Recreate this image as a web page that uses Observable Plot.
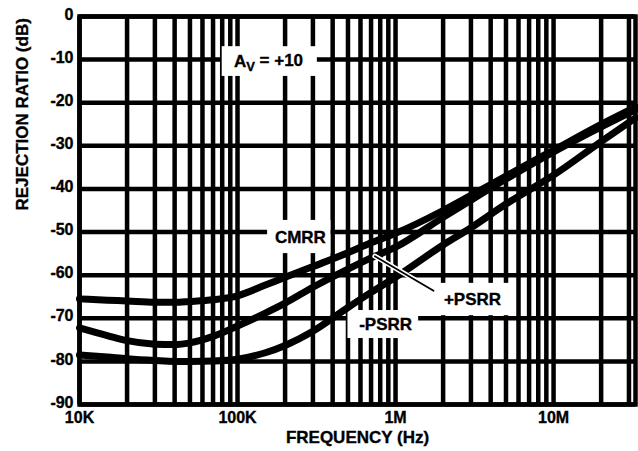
<!DOCTYPE html>
<html>
<head>
<meta charset="utf-8">
<script src="https://cdn.jsdelivr.net/npm/d3@7"></script>
<script src="https://cdn.jsdelivr.net/npm/@observablehq/plot@0.6"></script>
<style>
  html, body { margin: 0; padding: 0; background: white; }
  svg text { stroke: black; stroke-width: 0.35px; }
</style>
</head>
<body>
<div id="chart"></div>
<script>
// ---- data ----
const freqs = [1e4, 1.5e4, 2e4, 3e4, 4e4, 5e4, 7e4, 1e5, 1.5e5, 2e5, 3e5, 5e5, 7e5, 1e6, 2e6, 3e6, 5e6, 1e7, 2e7, 3.3e7];
const cmrr      = [-65.5, -65.8, -66, -66.3, -66.3, -66.1, -65.7, -64.8, -62.3, -60.5, -58, -54.8, -52.5, -50.3, -45, -41.5, -37, -31, -25, -21];
const psrrPlus  = [-72.2, -74, -75.2, -76, -76.1, -75.7, -74.2, -71.8, -68.8, -66.5, -62.8, -58.6, -56, -53.5, -46.6, -42.6, -37.7, -31.4, -25.6, -21.6];
const psrrMinus = [-78.5, -79, -79.4, -79.8, -80, -80, -79.9, -79.5, -78, -76.3, -73, -67.5, -64, -60.5, -53, -49, -43.5, -36.8, -29, -23.5];

const gridFreqs = [1e4, 2e4, 3e4, 4e4, 5e4, 6e4, 7e4, 8e4, 9e4,
                   1e5, 2e5, 3e5, 4e5, 5e5, 6e5, 7e5, 8e5, 9e5,
                   1e6, 2e6, 3e6, 4e6, 5e6, 6e6, 7e6, 8e6, 9e6,
                   1e7, 2e7, 3e7];
const gridDb = [0, -10, -20, -30, -40, -50, -60, -70, -80, -90];
const xTicks = [1e4, 1e5, 1e6, 1e7];
const xTickLabels = ["10K", "100K", "1M", "10M"];
const yTicks = [0, -10, -20, -30, -40, -50, -60, -70, -80, -90];

// annotations (data units)
const labelText = ["AV = +10", "CMRR", "+PSRR", "-PSRR"];
const labelFreq = [1.57e5, 2.5e5, 3.07e6, 8.65e5];
const labelDb   = [-10.4, -51.3, -65.7, -71.5];
const boxF1 = [8.0e4, 1.55e5, 1.7e6, 5.0e5];
const boxF2 = [3.2e5, 3.9e5, 5.5e6, 1.4e6];
const boxD1 = [-7, -47.3, -61.9, -68.2];
const boxD2 = [-13.9, -55, -69.4, -74.7];
const leader = [{f: 1.74e6, d: -63.6}, {f: 7.4e5, d: -55.6}];

// ---- build tables ----
const rows = [];
const seriesList = [["CMRR", cmrr], ["+PSRR", psrrPlus], ["-PSRR", psrrMinus]];
for (const [name, vals] of seriesList) {
  freqs.forEach((f, i) => rows.push({series: name, f, db: vals[i]}));
}
const labels = labelText.map((t, i) => ({t, f: labelFreq[i], d: labelDb[i]}));
const boxes = boxF1.map((f1, i) => ({f1, f2: boxF2[i], d1: boxD1[i], d2: boxD2[i]}));

const font = "'Liberation Sans', Arial, Helvetica, sans-serif";

const chart = Plot.plot({
  width: 638,
  height: 451,
  marginLeft: 79,
  marginRight: 3,
  marginTop: 16,
  marginBottom: 47,
  style: {fontFamily: font, fontSize: "17px", fontWeight: "bold", color: "black", background: "white", overflow: "visible"},
  x: {type: "log", domain: [1e4, 3.3e7]},
  y: {domain: [-90, 0]},
  marks: [
    Plot.ruleX(gridFreqs, {stroke: "black", strokeWidth: 4.5}),
    Plot.ruleY(gridDb, {stroke: "black", strokeWidth: 4.5}),
    Plot.frame({stroke: "black", strokeWidth: 4.5}),
    Plot.rect(boxes, {x1: "f1", x2: "f2", y1: "d1", y2: "d2", fill: "white"}),
    Plot.line(rows, {x: "f", y: "db", z: "series", stroke: "black", strokeWidth: 7, curve: "monotone-x"}),
    Plot.line(leader, {x: "f", y: "d", stroke: "white", strokeWidth: 5}),
    Plot.line(leader, {x: "f", y: "d", stroke: "black", strokeWidth: 1.8}),
    Plot.text(labels, {x: "f", y: "d", text: "t", fill: "black", fontSize: 17, fontWeight: "bold"}),
    Plot.axisX(xTicks, {tickSize: 0, tickPadding: 7, tickFormat: (d) => xTickLabels[xTicks.indexOf(d)], label: null, fontSize: 16}),
    Plot.axisY(yTicks, {tickSize: 0, tickPadding: 6, dy: -2, tickFormat: d => String(d), label: null, fontSize: 16}),
    Plot.text(["FREQUENCY (Hz)"], {frameAnchor: "bottom", dy: 38, fontSize: 17, fontWeight: "bold", fill: "black"}),
    Plot.text(["REJECTION RATIO (dB)"], {frameAnchor: "left", dx: -57, rotate: -90, fontSize: 17, fontWeight: "bold", fill: "black"})
  ]
});

// subscript V in "AV = +10"
d3.select(chart).selectAll("text").each(function() {
  if (this.textContent === "AV = +10") {
    const t = d3.select(this);
    t.text(null);
    t.append("tspan").text("A");
    t.append("tspan").attr("dy", "0.3em").attr("font-size", "13px").text("V");
    t.append("tspan").attr("dy", "-0.3em").text(" = +10");
  }
});

document.getElementById("chart").appendChild(chart);
</script>
</body>
</html>
